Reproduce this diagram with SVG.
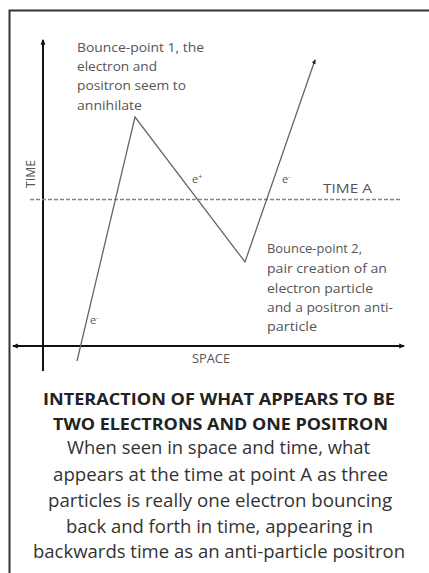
<svg xmlns="http://www.w3.org/2000/svg" width="429" height="573" viewBox="0 0 429 573">
<defs>
<marker id="ah" viewBox="0 0 10 10" refX="8" refY="5" markerWidth="6" markerHeight="6" orient="auto-start-reverse" markerUnits="userSpaceOnUse">
<path d="M0,1 L10,5 L0,9 Z" fill="#111"/>
</marker>
<marker id="ahs" viewBox="0 0 10 10" refX="8" refY="5" markerWidth="5" markerHeight="5" orient="auto" markerUnits="userSpaceOnUse">
<path d="M0,1 L10,5 L0,9 Z" fill="#222"/>
</marker>
</defs>
<style>
.lbl{font-family:"Open Sans","Liberation Sans",sans-serif;font-size:13px;fill:#555}
.small{font-family:"Open Sans","Liberation Sans",sans-serif;font-size:11px;fill:#555}
.title{font-family:"Open Sans","Liberation Sans",sans-serif;font-size:16.5px;font-weight:bold;fill:#222;text-anchor:middle}
.body{font-family:"Open Sans","Liberation Sans",sans-serif;font-size:17.5px;fill:#333;text-anchor:middle}
.axis{stroke:#111;stroke-width:2;fill:none}
.path{stroke:#666;stroke-width:1.3;fill:none}
</style>
<rect width="429" height="573" fill="#fff"/>
<path d="M9.5,573 V10.5 H429" stroke="#333" stroke-width="2" fill="none"/>
<g id="connectors">
<line class="axis" x1="43" y1="371" x2="43" y2="40" marker-end="url(#ah)"/>
<line class="axis" x1="13" y1="346" x2="404" y2="346" marker-start="url(#ah)" marker-end="url(#ah)"/>
<line x1="30" y1="199.5" x2="402" y2="199.5" stroke="#888" stroke-width="1.5" stroke-dasharray="4,2"/>
<polyline class="path" points="77,361 135,117 245,262 315,60" marker-end="url(#ahs)"/>
</g>
<g id="time-label"><text class="lbl" transform="translate(35,174) rotate(-90)" text-anchor="middle" textLength="28" lengthAdjust="spacingAndGlyphs">TIME</text></g>
<g id="space-label"><text class="lbl" x="211" y="363" text-anchor="middle" textLength="38" lengthAdjust="spacingAndGlyphs">SPACE</text></g>
<g id="time-a"><text class="lbl" x="323" y="193" textLength="49" lengthAdjust="spacingAndGlyphs">TIME  A</text></g>
<g id="bp1">
<text class="lbl" x="77" y="52" textLength="127" lengthAdjust="spacingAndGlyphs">Bounce-point 1, the</text>
<text class="lbl" x="77" y="71" textLength="80" lengthAdjust="spacingAndGlyphs">electron and</text>
<text class="lbl" x="77" y="90" textLength="109" lengthAdjust="spacingAndGlyphs">positron seem to</text>
<text class="lbl" x="77" y="110" textLength="65" lengthAdjust="spacingAndGlyphs">annihilate</text>
</g>
<g id="bp2">
<text class="lbl" x="267" y="253" textLength="95" lengthAdjust="spacingAndGlyphs">Bounce-point 2,</text>
<text class="lbl" x="267" y="273" textLength="120" lengthAdjust="spacingAndGlyphs">pair creation of an</text>
<text class="lbl" x="267" y="293" textLength="106" lengthAdjust="spacingAndGlyphs">electron particle</text>
<text class="lbl" x="267" y="312" textLength="126" lengthAdjust="spacingAndGlyphs">and a positron anti-</text>
<text class="lbl" x="267" y="331" textLength="50" lengthAdjust="spacingAndGlyphs">particle</text>
</g>
<g id="labels-e">
<text class="small" x="192" y="183">e<tspan dy="-4" font-size="7">+</tspan></text>
<text class="small" x="282" y="183">e<tspan dy="-4" font-size="7">-</tspan></text>
<text class="small" x="90" y="324">e<tspan dy="-4" font-size="7">-</tspan></text>
</g>
<g id="caption">
<text class="title" x="219" y="405" textLength="352" lengthAdjust="spacingAndGlyphs">INTERACTION OF WHAT APPEARS TO BE</text>
<text class="title" x="220.5" y="430" textLength="335" lengthAdjust="spacingAndGlyphs">TWO ELECTRONS AND ONE POSITRON</text>
<text class="body" x="218.5" y="454" textLength="303" lengthAdjust="spacingAndGlyphs">When seen in space and time, what</text>
<text class="body" x="220.5" y="481" textLength="335" lengthAdjust="spacingAndGlyphs">appears at the time at point A as three</text>
<text class="body" x="220" y="507" textLength="344" lengthAdjust="spacingAndGlyphs">particles is really one electron bouncing</text>
<text class="body" x="219.5" y="533" textLength="307" lengthAdjust="spacingAndGlyphs">back and forth in time, appearing in</text>
<text class="body" x="219" y="558" textLength="372" lengthAdjust="spacingAndGlyphs">backwards time as an anti-particle positron</text>
</g>
</svg>
